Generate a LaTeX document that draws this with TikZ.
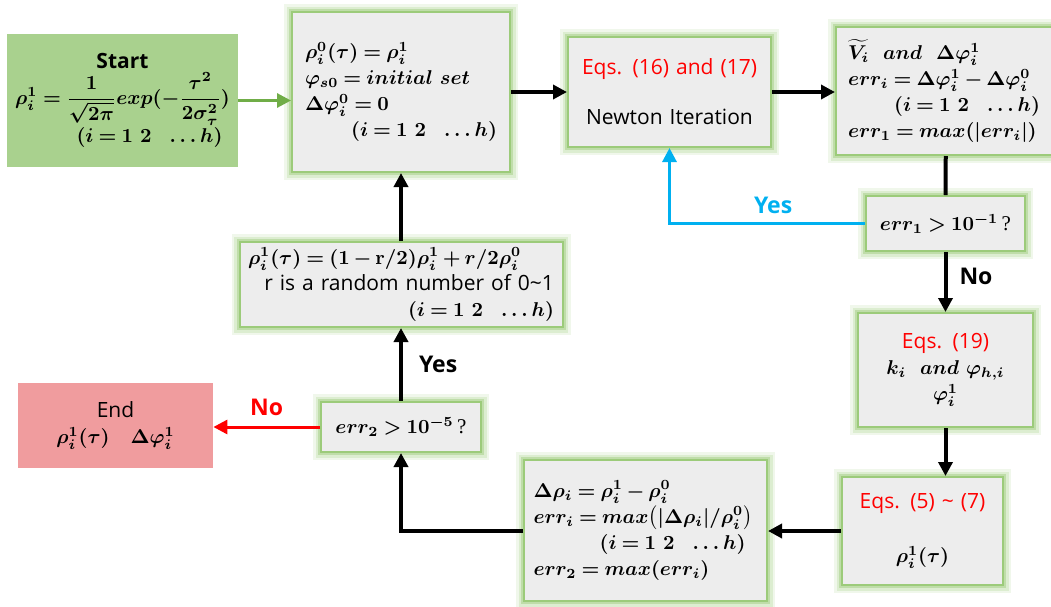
\documentclass[tikz,border=0pt]{standalone}
\usepackage{amsmath}
\usepackage[no-math]{fontspec}
\setmainfont{Open Sans}
\newfontfamily\qfont{Liberation Serif}
\usetikzlibrary{arrows.meta}

\definecolor{boxgray}{HTML}{EDEDED}
\definecolor{glowgreen}{HTML}{9CCB7A}
\definecolor{startgreen}{HTML}{A9D18E}
\definecolor{stopred}{HTML}{F09C9E}
\definecolor{yesblue}{HTML}{00B0F0}
\definecolor{eqred}{HTML}{FF0000}
\definecolor{arrowgreen}{HTML}{70AD47}

\DeclareMathSizes{10.5}{10}{7}{5}
\newcommand{\irange}{$(i = 1\ 2\ \ \ldots h)$}
\newcommand{\toright}[1]{\makebox[\hsize][r]{#1}}
\newcommand{\keepline}{\relpenalty=10000\relax\binoppenalty=10000\relax
  \medmuskip=3mu plus 2mu minus 3mu\relax\thickmuskip=4mu plus 4mu\relax}

\begin{document}
\begin{tikzpicture}[x=0.5pt, y=-0.5pt, >={Triangle[length=7pt,width=7pt]},
  every node/.style={inner sep=0pt, font=\fontsize{10.5}{13}\selectfont\boldmath, execute at begin node=\keepline},
  procbox/.style={fill=boxgray, draw=glowgreen, line width=1pt,
    preaction={draw=glowgreen!15, line width=8pt},
    preaction={draw=glowgreen!35, line width=5.5pt},
    preaction={draw=glowgreen!65, line width=3pt}},
  flow/.style={->, line width=2pt},
  lbl/.style={font=\fontsize{11.5}{13}\selectfont\bfseries}]
  \useasboundingbox (0,0) rectangle (1051,606);

  \node (start) [fill=startgreen, minimum width=115.5pt, minimum height=66.5pt, text width=112pt, align=center] at (122.5,100.5) {
    \textbf{Start}\\[1pt]
    $\rho_i^1 = \dfrac{1}{\sqrt{2\pi}}exp(-\dfrac{\tau^2}{2\sigma_\tau^2})$\\
    \toright{\irange\hspace*{6pt}}
  };
  \node (init) [procbox, minimum width=109pt, minimum height=80pt, text width=96pt, align=left] at (401,92) {
    $\rho_i^0(\tau) = \rho_i^1$\\
    $\varphi_{s0} = initial\ set$\\
    $\Delta\varphi_i^0 = 0$\\
    \toright{\irange}
  };
  \node (newton) [procbox, minimum width=101.5pt, minimum height=55pt, text width=101.5pt, align=center] at (669.5,92) {
    \textcolor{eqred}{Eqs. (16) and (17)}\\[12pt]
    Newton Iteration
  };
  \node (vi) [procbox, minimum width=110pt, minimum height=64pt, text width=98pt, align=left] at (946,91) {
    $\widetilde{V_i}\ \ and\ \ \Delta\varphi_i^1$\\
    $err_i = \Delta\varphi_i^1 - \Delta\varphi_i^0$\\
    \toright{\irange\hspace*{2pt}}\\
    $err_1 = max(|err_i|)$
  };
  \node (err1) [procbox, minimum width=79.5pt, minimum height=27.5pt] at (945.5,223.5) {$err_1 > 10^{-1}$\,{\qfont ?}};
  \node (eq19) [procbox, minimum width=87.5pt, minimum height=57pt, text width=87.5pt, align=center] at (945.5,370) {
    \textcolor{eqred}{Eqs. (19)}\\
    $k_i\ \ and\ \varphi_{h,i}$\\
    $\varphi_i^1$
  };
  \node (eq57) [procbox, minimum width=80.5pt, minimum height=54pt, text width=80.5pt, align=center] at (922.5,531) {
    \textcolor{eqred}{Eqs. (5) \textasciitilde{} (7)}\\[14pt]
    $\rho_i^1(\tau)$
  };
  \node (drho) [procbox, minimum width=121.5pt, minimum height=70.5pt, text width=112pt, align=left] at (645.5,530.5) {
    $\Delta\rho_i = \rho_i^1 - \rho_i^0$\\
    $err_i = max\bigl(|\Delta\rho_i|/\rho_i^0\bigr)$\\
    \toright{\irange\hspace*{6pt}}\\
    $err_2 = max(err_i)$
  };
  \node (err2) [procbox, minimum width=80pt, minimum height=25pt] at (401,427) {$err_2 > 10^{-5}$\,{\qfont ?}};
  \node (rho) [procbox, minimum width=161.5pt, minimum height=42.5pt, text width=153pt, align=left] at (401,284.5) {
    $\rho_i^1(\tau) = (1-\mathrm{r}/2)\rho_i^1 + r/2\rho_i^0$\\
    \toright{r is a random number of 0\textasciitilde1}\\
    \toright{\irange}
  };
  \node (stop) [fill=stopred, minimum width=97.5pt, minimum height=42.5pt, align=center] at (115.5,425.5) {
    End\\
    $\rho_i^1(\tau)\quad\Delta\varphi_i^1$
  };

  \draw[->, arrowgreen, line width=1.5pt] (start.east) -- (start.east -| init.west);
  \draw[flow] (init) -- (newton);
  \draw[flow] (newton.east) -- (newton.east -| vi.west);
  \draw[line width=2pt] (vi) -- (err1);
  \draw[->, yesblue, line width=1.5pt] (err1.west) -| (newton.south)
    node[lbl, pos=0.235, above=4pt, text=yesblue] (yes1) {Yes};
  \draw[flow] (err1) -- (eq19) node[lbl, pos=0.4, right=6pt] (no1) {No};
  \draw[flow] (eq19.south) -- (eq19.south |- eq57.north);
  \draw[flow] (eq57.west) -- (eq57.west -| drho.east);
  \draw[flow] (drho.west) -| (err2.south);
  \draw[flow] (err2) -- (rho) node[lbl, midway, right=8pt] (yes2) {Yes};
  \draw[flow] (rho) -- (init);
  \draw[->, eqred, line width=1.5pt] (err2.west) -- (err2.west -| stop.east)
    node[lbl, midway, above=5pt, text=eqred] (no2) {No};
\end{tikzpicture}
\end{document}
